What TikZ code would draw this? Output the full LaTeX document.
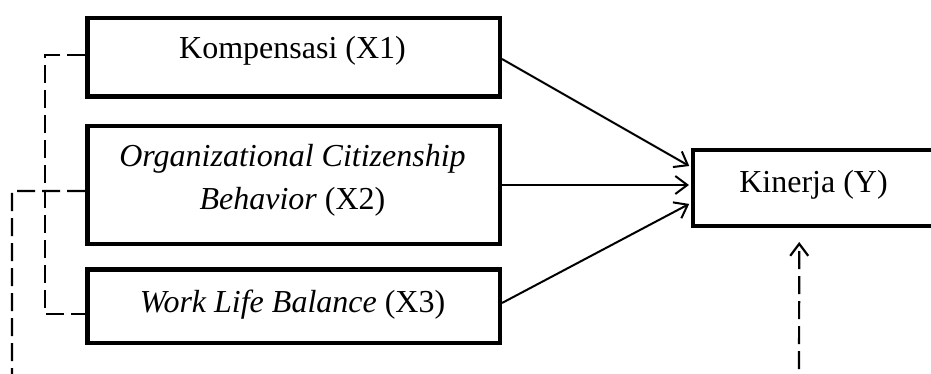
\documentclass[tikz,border=0pt]{standalone}
\usepackage{fontspec}
\setmainfont{Liberation Serif}
\usetikzlibrary{arrows.meta}
\begin{document}
\begin{tikzpicture}[x=1pt,y=-1pt,
  box/.style={draw, rectangle, line width=4.5pt, inner sep=0pt},
  lbl/.style={anchor=base, inner sep=0pt, font=\fontsize{32}{38}\selectfont},
  arr/.style={line width=2pt, -{Straight Barb[length=12pt,width=18pt,line width=2pt]}, shorten >=2pt},
  dashline/.style={line width=2.2pt, dash pattern=on 18pt off 7pt},
  darr/.style={dashline, -{Straight Barb[length=12pt,width=18pt,line width=2.2pt]}}]
\useasboundingbox (0,0) rectangle (931,374);
\clip (0,0) rectangle (931,374);
% boxes
\node[box, minimum width=412.5pt, minimum height=78.5pt] (x1) at (293.5,57.5) {};
\node[box, minimum width=412.5pt, minimum height=117.5pt] (x2) at (293.5,185) {};
\node[box, minimum width=412.5pt, minimum height=73.5pt] (x3) at (293.5,306) {};
\node[box, minimum width=286.75pt, minimum height=75.5pt] (y) at (836.6,188) {};
% texts
\node[lbl] (t1) at (292.5,59) {Kompensasi (X1)};
\node[lbl] (t2a) at (292.5,167) {\textit{Organizational Citizenship}};
\node[lbl] (t2b) at (292.5,210) {\textit{Behavior} (X2)};
\node[lbl] (t3) at (292.5,312) {\textit{Work Life Balance} (X3)};
\node[lbl] (ty) at (813.5,193) {Kinerja (Y)};
% arrows
\draw[arr] ([yshift=-1.5pt]x1.east) -- ([yshift=21pt]y.west);
\draw[arr] (x2.east) -- (x2.east -| y.west);
\draw[arr] ([yshift=3pt]x3.east) -- ([yshift=-15pt]y.west);
% dashed connectors
\draw[dashline] ([yshift=2.5pt]x1.west) -- (45,55) -- (45,314) -- ([yshift=-8pt]x3.west);
\draw[darr] ([yshift=-6pt]x2.west) -- (12,191) -- (12,400) -- (799,400) -- ([xshift=108.25pt,yshift=-14pt]y.south west);
\end{tikzpicture}
\end{document}
